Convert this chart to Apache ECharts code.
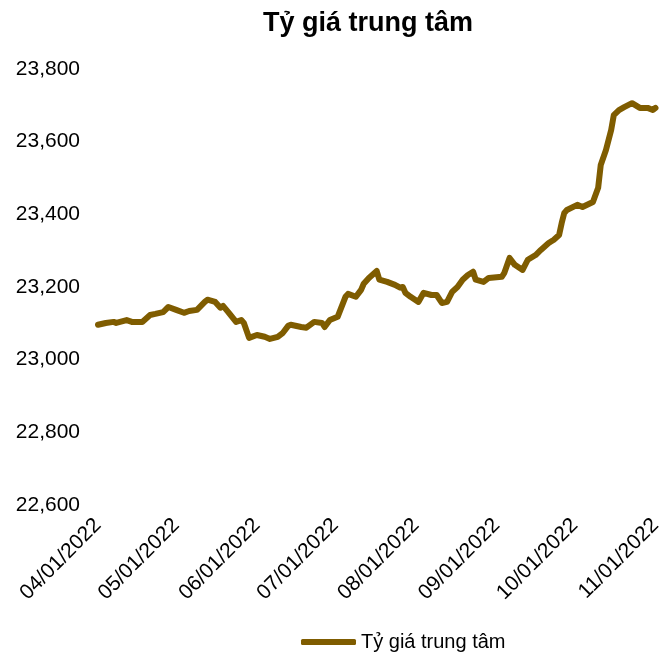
<!DOCTYPE html>
<html>
<head>
<meta charset="utf-8">
<script src="https://cdn.jsdelivr.net/npm/echarts@6/dist/echarts.min.js"></script>
<style>
    html, body { margin: 0; padding: 0; background: #fff; }
    #chart { width: 665px; height: 654px; }
</style>
</head>
<body>
<div id="chart"></div>
<script>
// ngày (dữ liệu)
var dates = [
    '2022-04-01', '2022-04-04', '2022-04-07', '2022-04-08', '2022-04-12', '2022-04-14', '2022-04-18',
    '2022-04-21', '2022-04-23', '2022-04-26', '2022-04-28', '2022-05-01', '2022-05-04', '2022-05-06',
    '2022-05-09', '2022-05-12', '2022-05-13', '2022-05-16', '2022-05-18', '2022-05-19', '2022-05-21',
    '2022-05-24', '2022-05-26', '2022-05-27', '2022-05-29', '2022-06-01', '2022-06-04', '2022-06-06',
    '2022-06-09', '2022-06-11', '2022-06-13', '2022-06-14', '2022-06-18', '2022-06-20', '2022-06-23',
    '2022-06-26', '2022-06-27', '2022-06-29', '2022-07-02', '2022-07-05', '2022-07-06', '2022-07-09',
    '2022-07-11', '2022-07-12', '2022-07-14', '2022-07-17', '2022-07-18', '2022-07-21', '2022-07-24',
    '2022-07-26', '2022-07-27', '2022-07-28', '2022-07-30', '2022-08-02', '2022-08-04', '2022-08-07',
    '2022-08-09', '2022-08-11', '2022-08-13', '2022-08-15', '2022-08-17', '2022-08-19', '2022-08-21',
    '2022-08-23', '2022-08-24', '2022-08-27', '2022-08-29', '2022-09-03', '2022-09-04', '2022-09-06',
    '2022-09-08', '2022-09-11', '2022-09-13', '2022-09-16', '2022-09-18', '2022-09-21', '2022-09-23',
    '2022-09-25', '2022-09-26', '2022-09-27', '2022-09-28', '2022-10-02', '2022-10-04', '2022-10-08',
    '2022-10-10', '2022-10-11', '2022-10-13', '2022-10-15', '2022-10-16', '2022-10-18', '2022-10-20',
    '2022-10-23', '2022-10-26', '2022-10-29', '2022-10-31', '2022-11-01'
];
// tỷ giá trung tâm (VND/USD)
var rates = [
    23096, 23101, 23104, 23101, 23109, 23104, 23104,
    23123, 23126, 23131, 23145, 23137, 23129, 23134,
    23137, 23159, 23165, 23159, 23143, 23148, 23131,
    23104, 23109, 23101, 23060, 23068, 23063, 23057,
    23063, 23074, 23093, 23096, 23090, 23088, 23104,
    23101, 23090, 23109, 23118, 23173, 23181, 23173,
    23192, 23209, 23225, 23244, 23220, 23214, 23206,
    23198, 23200, 23184, 23173, 23159, 23184, 23178,
    23178, 23156, 23159, 23187, 23200, 23220, 23233,
    23242, 23220, 23214, 23225, 23228, 23239, 23280,
    23261, 23247, 23275, 23288, 23302, 23321, 23330,
    23343, 23376, 23404, 23412, 23426, 23420, 23434,
    23473, 23536, 23577, 23632, 23673, 23687, 23695,
    23706, 23693, 23693, 23687, 23693
];
// nhãn trục x: đầu mỗi tháng
var monthTicks = [
    '2022-04-01', '2022-05-01', '2022-06-01', '2022-07-01',
    '2022-08-01', '2022-09-01', '2022-10-01', '2022-11-01'
];

var seriesName = 'Tỷ giá trung tâm';
var lineColor = '#7f5c00';

function toTime(s) {
    var p = s.split('-');
    return new Date(+p[0], +p[1] - 1, +p[2]).getTime();
}

function pad(n) {
    return (n < 10 ? '0' : '') + n;
}

var tickValues = monthTicks.map(toTime);

var seriesData = [];
for (var i = 0; i < dates.length; i++) {
    seriesData.push([toTime(dates[i]), rates[i]]);
}

var chart = echarts.init(document.getElementById('chart'));
var option = {
    animation: false,
    textStyle: { fontFamily: 'Liberation Sans, Arial, sans-serif' },
    title: {
        text: 'Tỷ giá trung tâm',
        left: 258,
        top: 5,
        textStyle: { fontSize: 27, fontWeight: 'bold', color: '#000' }
    },
    legend: {
        top: 627,
        left: 296,
        icon: 'roundRect',
        itemWidth: 55,
        itemHeight: 6,
        textStyle: { fontSize: 20, color: '#000' },
        data: [seriesName]
    },
    grid: {
        left: 98,
        right: 2,
        top: 69,
        bottom: 149,
        containLabel: false
    },
    xAxis: {
        type: 'value',
        min: tickValues[0],
        max: tickValues[tickValues.length - 1],
        axisLine: { show: false },
        axisTick: { show: false },
        splitLine: { show: false },
        axisLabel: {
            customValues: tickValues,
            rotate: 45,
            margin: 17,
            fontSize: 21,
            color: '#000',
            hideOverlap: false,
            showMinLabel: true,
            showMaxLabel: true,
            formatter: function (v) {
                var d = new Date(v);
                return pad(d.getMonth() + 1) + '/' + pad(d.getDate()) + '/' + d.getFullYear();
            }
        }
    },
    yAxis: {
        type: 'value',
        min: 22600,
        max: 23800,
        interval: 200,
        axisLine: { show: false },
        axisTick: { show: false },
        splitLine: { show: false },
        axisLabel: {
            margin: 18,
            fontSize: 21,
            color: '#000',
            formatter: function (v) {
                return v.toLocaleString('en-US');
            }
        }
    },
    series: [{
        name: seriesName,
        type: 'line',
        data: seriesData,
        symbol: 'none',
        smooth: false,
        lineStyle: { color: lineColor, width: 6, cap: 'round', join: 'round' },
        itemStyle: { color: lineColor }
    }]
};
chart.setOption(option);
</script>
</body>
</html>
